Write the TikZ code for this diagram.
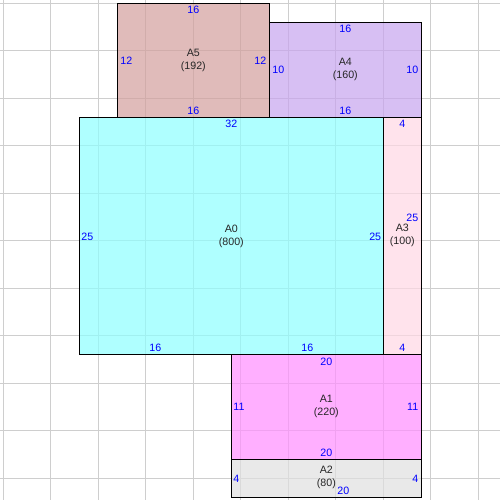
\documentclass[tikz,border=0pt]{standalone}
\usepackage{fontspec}
\setmainfont{Liberation Sans}
\usetikzlibrary{positioning}

\definecolor{fillAzero}{RGB}{142,255,255}
\definecolor{fillAone}{RGB}{255,142,255}
\definecolor{fillAtwo}{RGB}{224,224,224}
\definecolor{fillAthree}{RGB}{255,216,228}
\definecolor{fillAfour}{RGB}{199,164,238}
\definecolor{fillAfive}{RGB}{211,159,157}
\definecolor{gridline}{RGB}{206,206,206}

\tikzset{
	room/.style={draw=black, line width=0.8pt},
	roomfill/.style={fill opacity=0.7},
	len/.style={text=blue, inner sep=0pt},
	roomname/.style={align=center, inner sep=0pt, text=black!85}
}

\begin{document}
\begin{tikzpicture}[x=7.125pt, y=-7.125pt, font=\fontsize{8}{9.75}\selectfont]
	\useasboundingbox[fill=white] (-0.347, -0.347) rectangle (52.28, 52.28);

	% grid
	\foreach \k in {0,5,...,50} {
		\draw[gridline, line width=0.75pt] (\k, -0.347) -- (\k, 52.28);
		\draw[gridline, line width=0.75pt] (-0.347, \k) -- (52.28, \k);
	}

	% rooms
	\fill[roomfill, fillAfive] (12, 0) rectangle (28, 12);
	\fill[roomfill, fillAfour] (28, 2) rectangle (44, 12);
	\fill[roomfill, fillAzero] (8, 12) rectangle (40, 37);
	\fill[roomfill, fillAthree] (40, 12) rectangle (44, 37);
	\fill[roomfill, fillAone] (24, 37) rectangle (44, 48);
	\fill[roomfill, fillAtwo] (24, 48) rectangle (44, 52);
	\draw[room] (12, 0) rectangle (28, 12);
	\draw[room] (28, 2) rectangle (44, 12);
	\draw[room] (8, 12) rectangle (40, 37);
	\draw[room] (40, 12) rectangle (44, 37);
	\draw[room] (24, 37) rectangle (44, 48);
	\draw[room] (24, 48) rectangle (44, 52);

	% A5
	\node[roomname] (a5) at (20, 6) {A5\\(192)};
	\node[len] (a5top) at (20, 0.7) {16};
	\node[len] (a5bot) at (20, 11.3) {16};
	\node[len, anchor=west] (a5left) at (12.3, 6) {12};
	\node[len, anchor=east] (a5right) at (27.7, 6) {12};

	% A4
	\node[roomname] (a4) at (36, 7) {A4\\(160)};
	\node[len] (a4top) at (36, 2.7) {16};
	\node[len] (a4bot) at (36, 11.3) {16};
	\node[len, anchor=west] (a4left) at (28.3, 7) {10};
	\node[len, anchor=east] (a4right) at (43.7, 7) {10};

	% A0
	\node[roomname] (a0) at (24, 24.5) {A0\\(800)};
	\node[len] (a0top) at (24, 12.7) {32};
	\node[len] (a0botl) at (16, 36.3) {16};
	\node[len] (a0botr) at (32, 36.3) {16};
	\node[len, anchor=west] (a0left) at (8.2, 24.6) {25};
	\node[len, anchor=east] (a0right) at (39.8, 24.6) {25};

	% A3
	\node[roomname] (a3) at (42, 24.4) {A3\\(100)};
	\node[len] (a3top) at (42, 12.7) {4};
	\node[len] (a3bot) at (42, 36.3) {4};
	\node[len, anchor=east] (a3right) at (43.7, 22.6) {25};

	% A1
	\node[roomname] (a1) at (34, 42.4) {A1\\(220)};
	\node[len] (a1top) at (34, 37.7) {20};
	\node[len] (a1bot) at (34, 47.3) {20};
	\node[len, anchor=west] (a1left) at (24.2, 42.5) {11};
	\node[len, anchor=east] (a1right) at (43.7, 42.5) {11};

	% A2
	\node[roomname] (a2) at (34, 49.9) {A2\\(80)};
	\node[len, anchor=west] (a2left) at (24.2, 50) {4};
	\node[len, anchor=east] (a2right) at (43.7, 50) {4};
	\node[len] (a2bot) at (35.8, 51.3) {20};
\end{tikzpicture}
\end{document}
